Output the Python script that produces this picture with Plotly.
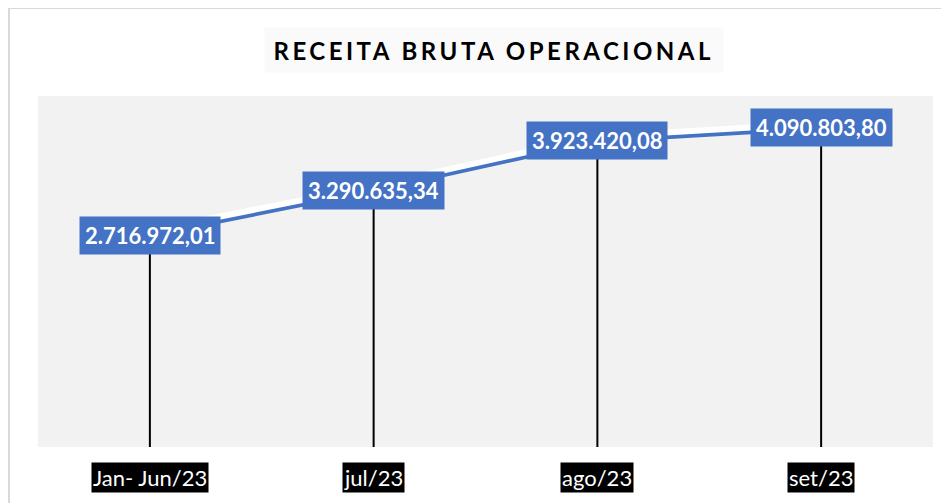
import plotly.graph_objects as go

categories = ["Jan- Jun/23", "jul/23", "ago/23", "set/23"]
values = [2716972.01, 3290635.34, 3923420.08, 4090803.80]
labels = ["2.716.972,01", "3.290.635,34", "3.923.420,08", "4.090.803,80"]
title_text = "RECEITA BRUTA OPERACIONAL"

BLUE = "#4472C4"
YMAX = 4.5e6
PLOT_W = 895
PLOT_H = 351
ML, MT = 30, 88
shift = 4.5 * YMAX / PLOT_H  # white highlight ~4.5px above the blue line

fig = go.Figure()

# white highlight line (on an overlaying axis shifted a few pixels)
fig.add_trace(go.Scatter(
    x=categories, y=values, mode="lines", yaxis="y2",
    line=dict(color="white", width=6), hoverinfo="skip", showlegend=False,
))

# main line with drop lines
fig.add_trace(go.Scatter(
    x=categories, y=values, mode="lines",
    line=dict(color=BLUE, width=4.5),
    error_y=dict(type="data", symmetric=False, array=[0] * len(values),
                 arrayminus=values, color="black", thickness=2, width=0),
    showlegend=False,
))

annotations = []
for c, v, t in zip(categories, values, labels):
    annotations.append(dict(
        x=c, y=v, xref="x", yref="y", text="<b>" + t + "</b>", showarrow=False,
        font=dict(family="Lato", size=22, color="white"),
        bgcolor=BLUE, borderpad=5, xanchor="center", yanchor="middle",
    ))
for c in categories:
    annotations.append(dict(
        x=c, y=0, xref="x", yref="paper", text=c, showarrow=False,
        font=dict(family="Lato", size=22, color="white"),
        bgcolor="black", borderpad=1, xanchor="center", yanchor="middle",
        yshift=-30,
    ))
annotations.append(dict(
    x=(494 - 38) / PLOT_W, y=(447 - 50) / PLOT_H, xref="paper", yref="paper",
    text="<b>" + title_text + "</b>", showarrow=False,
    font=dict(family="Lato", size=24, color="black"),
    bgcolor="#fafafa", width=458, height=44, borderpad=0,
    xanchor="center", yanchor="middle",
))

fig.update_layout(
    width=941, height=495,
    margin=dict(l=ML, r=16, t=MT, b=56),
    paper_bgcolor="white", plot_bgcolor="#f2f2f2",
    xaxis=dict(range=[-0.5, 3.5], showticklabels=False, showgrid=False,
               zeroline=False, showline=False, ticks=""),
    yaxis=dict(range=[0, YMAX], visible=False, showgrid=False, zeroline=False),
    yaxis2=dict(range=[-shift, YMAX - shift], overlaying="y", visible=False,
                showgrid=False, zeroline=False),
    annotations=annotations,
    shapes=[dict(type="rect", xref="paper", yref="paper",
                 x0=-(ML - 1) / PLOT_W, x1=1.1,
                 y0=-0.3, y1=1 + (MT - 0) / PLOT_H,
                 line=dict(color="#d9d9d9", width=2), fillcolor="rgba(0,0,0,0)",
                 layer="above")],
)

post = """
var anns = document.querySelectorAll('.annotation-text');
anns.forEach(function(el){ if (el.textContent.indexOf('RECEITA') === 0) { el.style.letterSpacing = '3.5px'; } });
"""

fig.write_html("out.html", post_script=post)
